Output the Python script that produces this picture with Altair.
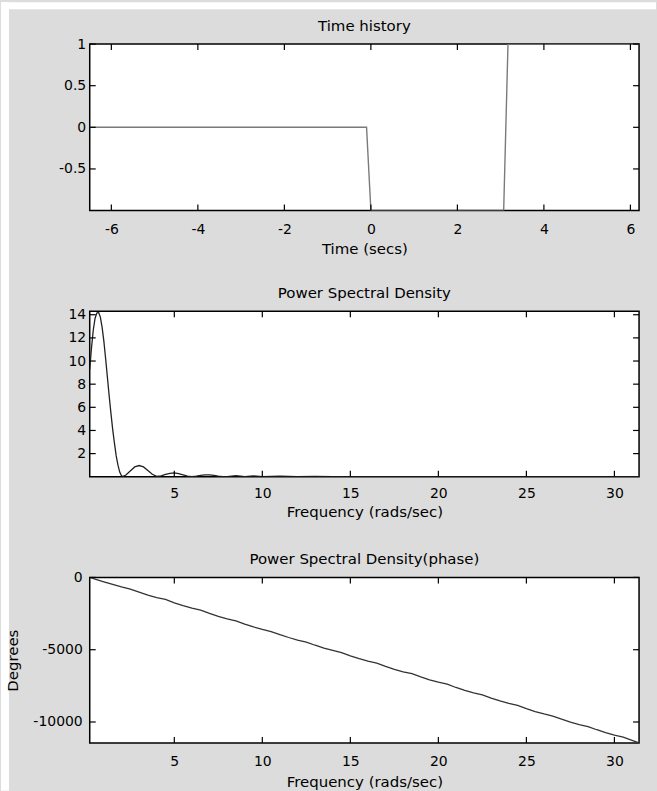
import altair as alt
import pandas as pd

FONT = "DejaVu Sans"
BG = "#dcdcdc"

# ---------------- data ----------------
# Panel 1: time history
TIME_T = [-6.5, -0.1, 0.0, 3.07, 3.17, 6.2]
TIME_Y = [0, 0, -1, -1, 1, 1]

# Panel 2: power spectral density
PSD_W = [0.196, 0.3, 0.4, 0.5, 0.6, 0.7, 0.8, 0.9, 1.0, 1.1, 1.2, 1.3, 1.4, 1.5,
         1.6, 1.7, 1.8, 1.9, 2.0, 2.1, 2.25, 2.5, 2.75, 3.0, 3.25, 3.5, 3.75,
         4.0, 4.25, 4.5, 4.75, 5.0, 5.25, 5.5, 5.75, 6.0, 6.25, 6.5, 6.75, 7.0,
         7.25, 7.5, 7.75, 8.0, 8.5, 9.0, 9.5, 10.0, 11, 12, 13, 14, 15, 16, 17,
         18, 19, 20, 22, 24, 26, 28, 30, 31.4]
PSD_V = [9.3, 11.2, 12.7, 13.7, 14.15, 14.2, 13.8, 12.9, 11.7, 10.2, 8.6, 7.0,
         5.5, 4.1, 2.9, 1.8, 1.0, 0.4, 0.08, 0.03, 0.15, 0.5, 0.85, 0.97, 0.85,
         0.55, 0.22, 0.03, 0.08, 0.2, 0.3, 0.33, 0.28, 0.17, 0.06, 0.01, 0.05,
         0.12, 0.17, 0.17, 0.12, 0.06, 0.02, 0.01, 0.1, 0.02, 0.07, 0.01, 0.05,
         0.01, 0.03, 0.01, 0.02, 0.01, 0.02, 0.01, 0.01, 0.01, 0.01, 0.01, 0.01,
         0.01, 0.01, 0.01]

# Panel 3: phase (degrees)
PH_W = [0.196, 0.5, 1, 1.5, 2, 2.5, 3, 3.5, 4, 4.5, 5, 5.5, 6, 6.5, 7, 7.5,
        8, 8.5, 9, 9.5, 10, 10.5, 11, 11.5, 12, 12.5, 13, 13.5, 14, 14.5, 15,
        15.5, 16, 16.5, 17, 17.5, 18, 18.5, 19, 19.5, 20, 20.5, 21, 21.5, 22,
        22.5, 23, 23.5, 24, 24.5, 25, 25.5, 26, 26.5, 27, 27.5, 28, 28.5, 29,
        29.5, 30, 30.5, 31, 31.4]
PH_V = [0, -111, -298, -480, -651, -803, -1020, -1222, -1388, -1525, -1752,
        -1954, -2115, -2257, -2484, -2691, -2862, -2999, -3226, -3423, -3594,
        -3741, -3958, -4155, -4331, -4468, -4690, -4892, -5053, -5200, -5427,
        -5619, -5790, -5927, -6154, -6356, -6527, -6659, -6881, -7083, -7249,
        -7386, -7613, -7815, -7986, -8123, -8345, -8547, -8718, -8855, -9077,
        -9279, -9445, -9587, -9809, -10011, -10177, -10314, -10536, -10738,
        -10904, -11041, -11268, -11450]

# ticks
X1_TICKS = [-6, -4, -2, 0, 2, 4, 6]
Y1_TICKS = [-0.5, 0, 0.5, 1]
XF_TICKS = [5, 10, 15, 20, 25, 30]
Y2_TICKS = [2, 4, 6, 8, 10, 12, 14]
Y3_TICKS = [-10000, -5000, 0]

X1_DOM = [-6.5, 6.2]
Y1_DOM = [-1, 1]
XF_DOM = [0.196, 31.4]
Y2_DOM = [0, 14.3]
Y3_DOM = [-11450, 0]

TITLES = ["Time history", "Power Spectral Density",
          "Power Spectral Density(phase)"]

W = 551
TL = 6
ONE = pd.DataFrame({"k": [0]})


def panel(line_df, xdom, ydom, xticks, yticks, H, title, xtitle, ytitle,
          xlab_pad, xtitle_y, ylab_pad, line_color, line_width,
          under=None, extra=None):
    xs = alt.Scale(domain=xdom, nice=False, zero=False)
    ys = alt.Scale(domain=ydom, nice=False, zero=False)
    xaxis = alt.Axis(values=xticks, title=xtitle, ticks=False, tickSize=0,
                     domain=False, grid=False, labelPadding=xlab_pad,
                     labelFlush=False, labelOverlap=False, labelFont=FONT,
                     labelFontSize=14, labelColor="black", zindex=1,
                     labelExpr="'' + datum.value", titleFont=FONT,
                     titleFontSize=15, titleFontWeight="normal",
                     titleColor="black", titleY=xtitle_y,
                     titleBaseline="alphabetic")
    ykw = dict(values=yticks, title=ytitle, ticks=False, tickSize=0,
               domain=False, grid=False, labelPadding=ylab_pad,
               labelFlush=False, labelOverlap=False, labelFont=FONT,
               labelFontSize=14, labelColor="black", zindex=1,
               labelExpr="'' + datum.value", titleFont=FONT,
               titleFontSize=15, titleFontWeight="normal", titleColor="black")
    if ytitle:
        ykw.update(titleX=-77, titleY=H / 2, titleAngle=270,
                   titleAlign="center", titleBaseline="middle")
    yaxis = alt.Axis(**ykw)

    X = lambda f: alt.X(f, type="quantitative", scale=xs, axis=xaxis)
    Y = lambda f: alt.Y(f, type="quantitative", scale=ys, axis=yaxis)

    line = alt.Chart(line_df).mark_line(
        color=line_color, strokeWidth=line_width, clip=True
    ).encode(x=X("x"), y=Y("y"))

    xt = pd.DataFrame({"x": xticks})
    yt = pd.DataFrame({"y": yticks})
    rule = dict(color="black", strokeWidth=1.2)
    tb = alt.Chart(xt).mark_rule(**rule).encode(
        x=X("x"), y=alt.value(H), y2=alt.value(H - TL))
    tt = alt.Chart(xt).mark_rule(**rule).encode(
        x=X("x"), y=alt.value(0), y2=alt.value(TL))
    tl = alt.Chart(yt).mark_rule(**rule).encode(
        y=Y("y"), x=alt.value(0), x2=alt.value(TL))
    tr = alt.Chart(yt).mark_rule(**rule).encode(
        y=Y("y"), x=alt.value(W - TL), x2=alt.value(W))

    ttl = alt.Chart(pd.DataFrame({"t": [title]})).mark_text(
        font=FONT, fontSize=15, color="black", align="center",
        baseline="alphabetic"
    ).encode(text="t:N", x=alt.value(W / 2), y=alt.value(-13))

    layers = []
    if under is not None:
        layers.extend(under(H))
    layers += [line, tb, tt, tl, tr, ttl]
    if extra is not None:
        layers.append(extra)
    return alt.layer(*layers).properties(width=W, height=H)


def page_margin(H):
    # thin white page margin left of and above the grey figure window
    left = alt.Chart(ONE).mark_rect(color="white").encode(
        x=alt.value(-89), x2=alt.value(-81), y=alt.value(-42),
        y2=alt.value(749))
    top = alt.Chart(ONE).mark_rect(color="white").encode(
        x=alt.value(-89), x2=alt.value(568), y=alt.value(-42),
        y2=alt.value(-35))
    return [left, top]


df1 = pd.DataFrame({"x": TIME_T, "y": TIME_Y})
df2 = pd.DataFrame({"x": PSD_W, "y": PSD_V})
df3 = pd.DataFrame({"x": PH_W, "y": PH_V})

# invisible element spanning the full page so the page size is exact
bounder = alt.Chart(ONE).mark_rule(
    opacity=0, strokeWidth=0.01
).encode(x=alt.value(-89), x2=alt.value(568), y=alt.value(-577),
         y2=alt.value(214))

p1 = panel(df1, X1_DOM, Y1_DOM, X1_TICKS, Y1_TICKS, 167, TITLES[0],
           "Time (secs)", "", 12, 43, 4, "#7a7a7a", 1.4,
           under=page_margin)
p2 = panel(df2, XF_DOM, Y2_DOM, XF_TICKS, Y2_TICKS, 166, TITLES[1],
           "Frequency (rads/sec)", "", 10, 40, 4, "#222222", 1.3)
p3 = panel(df3, XF_DOM, Y3_DOM, XF_TICKS, Y3_TICKS, 166, TITLES[2],
           "Frequency (rads/sec)", "Degrees", 11.5, 44, 7.5, "#333333", 1.3,
           extra=bounder)

chart = alt.vconcat(p1, p2, p3, spacing=101, bounds="flush").properties(
    padding=0, background=BG, autosize=alt.AutoSizeParams(type="pad")
).configure_view(fill="white", stroke="black", strokeWidth=1.5)

chart.save("out.html", embed_options={"renderer": "svg", "actions": False})
